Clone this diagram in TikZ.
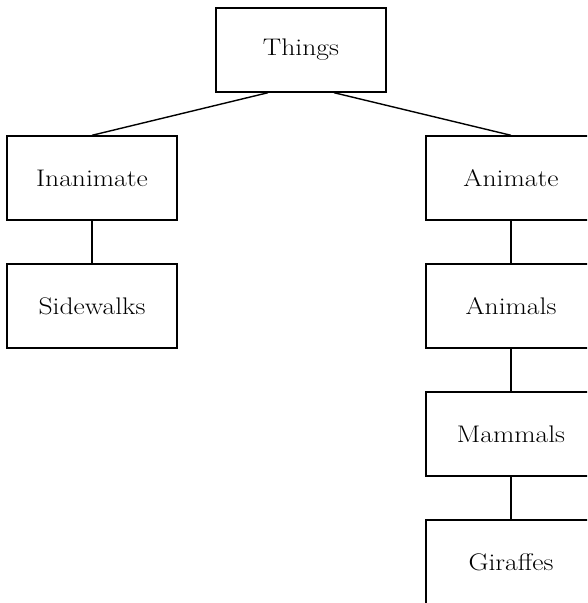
\documentclass[tikz,border=0pt]{standalone}
\usepackage{fontspec}
\setmainfont[FakeStretch=1.15]{Latin Modern Roman}
\usetikzlibrary{calc}
\begin{document}
\begin{tikzpicture}[x=1pt,y=-1pt,
  box/.style={draw, line width=1.4pt, minimum height=84pt, minimum width=170pt, inner sep=0pt, font=\fontsize{24}{28}\selectfont},
  link/.style={line width=1.4pt}]
\clip (0,0) rectangle (587,603);
\node[box] (things) at (301,50) {Things};
\node[box] (inanimate) at (92,178) {Inanimate};
\node[box] (sidewalks) at (92,306) {Sidewalks};
\node[box] (animate) at (511,178) {Animate};
\node[box] (animals) at (511,306) {Animals};
\node[box] (mammals) at (511,434) {Mammals};
\node[box] (giraffes) at (511,562) {Giraffes};
\draw[link] ($(things.south)+(-33,0)$) -- (inanimate.north);
\draw[link] ($(things.south)+(33,0)$) -- (animate.north);
\draw[link] (inanimate) -- (sidewalks);
\draw[link] (animate) -- (animals);
\draw[link] (animals) -- (mammals);
\draw[link] (mammals) -- (giraffes);
\end{tikzpicture}
\end{document}
